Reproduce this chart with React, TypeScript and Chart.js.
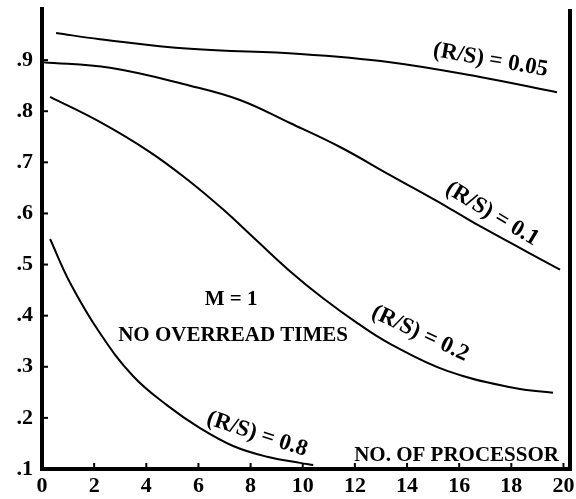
import { useEffect, useRef } from "react";
import { Chart, registerables } from "chart.js";

Chart.register(...registerables);

// ---- data ----
const xTickValues = [0, 2, 4, 6, 8, 10, 12, 14, 16, 18, 20];
const yTickLabels = [".1", ".2", ".3", ".4", ".5", ".6", ".7", ".8", ".9"];

const rs005X = [0.54, 2.22, 5.68, 9.9, 13.35, 16.8, 19.75];
const rs005Y = [0.953, 0.941, 0.922, 0.912, 0.896, 0.867, 0.837];

const rs01X = [0.04, 2.61, 5.68, 7.59, 9.51, 11.43, 13.35, 15.53, 16.8, 19.87];
const rs01Y = [0.896, 0.885, 0.85, 0.822, 0.777, 0.73, 0.675, 0.613, 0.575, 0.49];

const rs02X = [0.31, 2.22, 4.14, 5.68, 6.94, 8.17, 9.51, 10.78, 12.08, 13.35, 15.54, 18.07, 19.6];
const rs02Y = [0.828, 0.779, 0.72, 0.662, 0.608, 0.55, 0.487, 0.434, 0.386, 0.345, 0.292, 0.259, 0.249];

const rs08X = [0.31, 1.07, 2.22, 3.49, 4.79, 6.06, 7.33, 8.63, 9.9, 10.4];
const rs08Y = [0.55, 0.465, 0.366, 0.282, 0.225, 0.18, 0.145, 0.124, 0.112, 0.108];

const curveNames = ["(R/S) = 0.05", "(R/S) = 0.1", "(R/S) = 0.2", "(R/S) = 0.8"];
const noteLines = ["M = 1", "NO OVERREAD TIMES"];
const xAxisTitle = "NO. OF PROCESSOR";

const toPoints = (xs: number[], ys: number[]) => xs.map((x, i) => ({ x, y: ys[i] }));

const FONT = "'Liberation Serif', 'Times New Roman', serif";

export default function App() {
  const ref = useRef<HTMLCanvasElement | null>(null);

  useEffect(() => {
    document.body.style.margin = "0";
    const canvas = ref.current;
    if (!canvas) return;

    // annotation placement (data coordinates) and rotation in degrees
    const curveLabelPos = [
      { x: 17.2, y: 0.9, rot: 10 },
      { x: 17.26, y: 0.599, rot: 31 },
      { x: 14.5, y: 0.365, rot: 25 },
      { x: 8.25, y: 0.168, rot: 18 },
    ];
    const notePos = [
      { x: 7.25, y: 0.431 },
      { x: 7.33, y: 0.362 },
    ];
    const titlePos = { x: 15.9, y: 0.127 };

    const overlay = {
      id: "overlay",
      afterDraw(chart: any) {
        const { ctx, chartArea, scales } = chart;
        const xs = scales.x;
        const ys = scales.y;
        ctx.save();
        ctx.strokeStyle = "#000";
        ctx.fillStyle = "#000";
        const line = (x1: number, y1: number, x2: number, y2: number) => {
          ctx.beginPath();
          ctx.moveTo(x1, y1);
          ctx.lineTo(x2, y2);
          ctx.stroke();
        };
        // inward tick marks
        ctx.lineWidth = 2;
        xs.ticks.forEach((t: any) => {
          if (t.value === 0) return;
          const px = xs.getPixelForValue(t.value);
          line(px, chartArea.bottom, px, chartArea.bottom - 6);
        });
        ys.ticks.forEach((t: any) => {
          if (t.value > 0.95 || t.value < 0.15) return;
          const py = ys.getPixelForValue(t.value);
          line(chartArea.left, py, chartArea.left + 6, py);
        });
        // right frame
        ctx.lineWidth = 4;
        line(chartArea.right, chartArea.top, chartArea.right, chartArea.bottom + 2);

        // curve labels
        ctx.textAlign = "center";
        ctx.textBaseline = "middle";
        ctx.font = `bold 23px ${FONT}`;
        curveNames.forEach((name, i) => {
          const p = curveLabelPos[i];
          ctx.save();
          ctx.translate(xs.getPixelForValue(p.x), ys.getPixelForValue(p.y));
          ctx.rotate((p.rot * Math.PI) / 180);
          ctx.fillText(name, 0, 0);
          ctx.restore();
        });
        ctx.font = `bold 21px ${FONT}`;
        noteLines.forEach((txt, i) => {
          const p = notePos[i];
          ctx.fillText(txt, xs.getPixelForValue(p.x), ys.getPixelForValue(p.y));
        });
        ctx.fillText(xAxisTitle, xs.getPixelForValue(titlePos.x), ys.getPixelForValue(titlePos.y));
        ctx.restore();
      },
    };

    const mk = (xsArr: number[], ysArr: number[]) => ({
      data: toPoints(xsArr, ysArr),
      borderColor: "#000",
      borderWidth: 2,
      pointRadius: 0,
      fill: false,
      tension: 0.4,
    });

    const chart = new Chart(canvas, {
      type: "line",
      data: {
        datasets: [mk(rs005X, rs005Y), mk(rs01X, rs01Y), mk(rs02X, rs02Y), mk(rs08X, rs08Y)],
      },
      options: {
        animation: false,
        responsive: false,
        devicePixelRatio: 1,
        layout: { padding: { top: 9, right: 6, left: 0, bottom: 0 } },
        plugins: { legend: { display: false }, tooltip: { enabled: false } },
        scales: {
          x: {
            type: "linear",
            min: 0,
            max: 20.25,
            afterBuildTicks: (s: any) => {
              s.ticks = xTickValues.map((v) => ({ value: v }));
            },
            afterFit: (s: any) => {
              s.height = 30;
              s.paddingLeft = 0;
              s.paddingRight = 0;
            },
            grid: { display: false, drawTicks: false },
            border: { display: true, width: 4, color: "#000" },
            ticks: {
              color: "#000",
              padding: 4,
              maxRotation: 0,
              autoSkip: false,
              font: { family: FONT, size: 22, weight: "bold" },
              callback: (v: any) => String(v),
            },
          },
          y: {
            type: "linear",
            min: 0.1,
            max: 1.0,
            afterBuildTicks: (s: any) => {
              s.ticks = yTickLabels.map((_, i) => ({ value: (i + 1) / 10 }));
            },
            afterFit: (s: any) => {
              s.width = 42;
              s.paddingTop = 0;
              s.paddingBottom = 0;
            },
            grid: { display: false, drawTicks: false },
            border: { display: true, width: 4, color: "#000" },
            ticks: {
              color: "#000",
              padding: 9,
              autoSkip: false,
              font: { family: FONT, size: 22, weight: "bold" },
              callback: (v: any) => {
                const i = Math.round(Number(v) * 10) - 1;
                return yTickLabels[i] ?? "";
              },
            },
          },
        },
      },
      plugins: [overlay],
    });
    return () => chart.destroy();
  }, []);

  return (
    <div style={{ width: 576, height: 499, background: "#fff" }}>
      <canvas ref={ref} width={576} height={499} style={{ display: "block" }} />
    </div>
  );
}
